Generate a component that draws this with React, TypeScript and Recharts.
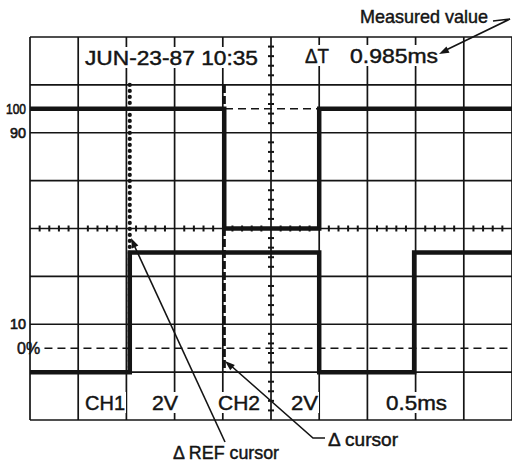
import React from 'react';
import {
  ComposedChart,
  Line,
  XAxis,
  YAxis,
  CartesianGrid,
  ReferenceLine,
  Scatter,
  Customized,
} from 'recharts';

// ---- data (in screen divisions: x 0..10 = 0.5 ms/div, y 0..8) ----
const gridX = [0, 1, 2, 3, 4, 5, 6, 7, 8, 9, 10];
const gridY = [0, 1, 2, 3, 4, 5, 6, 7, 8];

const ch1Time = [0, 2.07, 6.0, 7.97, 10];
const ch1Level = [1.0, 3.5, 1.0, 3.5, 3.5];

const ch2Time = [0, 4.03, 6.0, 10];
const ch2Level = [6.5, 4.0, 6.5, 6.5];

const refCursorX = 2.07;
const deltaCursorX = 4.03;
const cursorSpan = [1, 7];

const pctLevels = [6.5, 1.5]; // 100 % and 0 %
const yTickValues = [6.5, 6, 2, 1.5];
const yTickLabels = ['100', '90', '10', '0%'];

const centerX = 5;
const centerY = 4;
const minorX = [
  0.2, 0.4, 0.6, 0.8, 1.2, 1.4, 1.6, 1.8, 2.2, 2.4, 2.6, 2.8, 3.2, 3.4, 3.6, 3.8,
  4.2, 4.4, 4.6, 4.8, 5.2, 5.4, 5.6, 5.8, 6.2, 6.4, 6.6, 6.8, 7.2, 7.4, 7.6, 7.8,
  8.2, 8.4, 8.6, 8.8, 9.2, 9.4, 9.6, 9.8,
];
const minorY = [
  0.2, 0.4, 0.6, 0.8, 1.2, 1.4, 1.6, 1.8, 2.2, 2.4, 2.6, 2.8, 3.2, 3.4, 3.6, 3.8,
  4.2, 4.4, 4.6, 4.8, 5.2, 5.4, 5.6, 5.8, 6.2, 6.4, 6.6, 6.8, 7.2, 7.4, 7.6, 7.8,
];

const ch1Data = ch1Time.map((t, i) => ({ t, v: ch1Level[i] }));
const ch2Data = ch2Time.map((t, i) => ({ t, v: ch2Level[i] }));
const minorXData = minorX.map((t) => ({ t, v: centerY }));
const minorYData = minorY.map((v) => ({ t: centerX, v }));

const INK = '#141414';
const FONT = '"Liberation Sans", Arial, Helvetica, sans-serif';

const YTick = (props: any) => {
  const { y, payload } = props;
  const idx = yTickValues.indexOf(payload.value);
  const label = yTickLabels[idx];
  if (label === '0%') {
    return (
      <text x={17} y={y} dy={5.5} fontSize={16} fontFamily={FONT} fill={INK} stroke={INK} strokeWidth={0.5} textAnchor="start">
        {label}
      </text>
    );
  }
  return (
    <text x={26} y={y} dy={5} fontSize={14} fontFamily={FONT} fill={INK} stroke={INK} strokeWidth={0.6} textAnchor="end" textLength={label.length === 3 ? 20 : 16} lengthAdjust="spacingAndGlyphs">
      {label}
    </text>
  );
};

const HTick = (props: any) => {
  const { cx, cy } = props;
  return <line x1={cx} x2={cx} y1={cy - 3} y2={cy + 3} stroke={INK} strokeWidth={2} />;
};
const VTick = (props: any) => {
  const { cx, cy } = props;
  return <line x1={cx - 3} x2={cx + 3} y1={cy} y2={cy} stroke={INK} strokeWidth={2} />;
};

const arrowHead = (tx: number, ty: number, fx: number, fy: number) => {
  const dx = fx - tx;
  const dy = fy - ty;
  const len = Math.hypot(dx, dy);
  const ux = dx / len;
  const uy = dy / len;
  const L = 10;
  const W = 3.5;
  const bx = tx + ux * L;
  const by = ty + uy * L;
  return `${tx},${ty} ${bx - uy * W},${by + ux * W} ${bx + uy * W},${by - ux * W}`;
};

type Lbl = { text: string; x: number; y: number; size: number; len: number; bg: boolean };
const labels: Lbl[] = [
  { text: 'JUN-23-87 10:35', x: 85, y: 65, size: 20, len: 173, bg: true },
  { text: 'ΔT', x: 305, y: 63, size: 21, len: 24, bg: true },
  { text: '0.985ms', x: 350, y: 63, size: 21, len: 88, bg: true },
  { text: 'Measured value', x: 360, y: 23, size: 18.5, len: 128, bg: false },
  { text: 'CH1', x: 85, y: 410, size: 21, len: 40, bg: true },
  { text: '2V', x: 152, y: 410, size: 21, len: 26, bg: true },
  { text: 'CH2', x: 218, y: 410, size: 21, len: 42, bg: true },
  { text: '2V', x: 291, y: 410, size: 21, len: 27, bg: true },
  { text: '0.5ms', x: 386, y: 410, size: 21, len: 61, bg: true },
  { text: 'Δ REF cursor', x: 173, y: 459, size: 17.5, len: 106, bg: false },
  { text: 'Δ cursor', x: 328, y: 446, size: 17.5, len: 70, bg: false },
];

const Overlay = () => (
  <g>
    {labels.map((l, i) =>
      l.bg ? (
        <rect key={'r' + i} x={l.x - 2} y={l.y - 18} width={l.len + 3} height={21} fill="#fff" />
      ) : null
    )}
    {labels.map((l, i) => (
      <text
        key={'t' + i}
        x={l.x}
        y={l.y}
        fontSize={l.size}
        fontFamily={FONT}
        fill={INK}
        stroke={INK}
        strokeWidth={0.45}
        textLength={l.len}
        lengthAdjust="spacingAndGlyphs"
      >
        {l.text}
      </text>
    ))}
    {/* leader: Measured value */}
    <polyline points="493,21 510,19 444,51" fill="none" stroke={INK} strokeWidth={1.6} />
    <polygon points={arrowHead(439, 54, 510, 19)} fill={INK} />
    {/* leader: Δ REF cursor */}
    <line x1={134} y1={245} x2={225} y2={442} stroke={INK} strokeWidth={1.6} />
    <polygon points={arrowHead(131, 238, 225, 442)} fill={INK} />
    {/* leader: Δ cursor */}
    <polyline points="229,364 313,438 325,438" fill="none" stroke={INK} strokeWidth={1.6} />
    <polygon points={arrowHead(225, 361, 313, 438)} fill={INK} />
  </g>
);

export default function App() {
  return (
    <div style={{ position: 'absolute', left: 0, top: 0, width: 512, height: 463, background: '#fff' }}>
      <ComposedChart width={512} height={463} margin={{ top: 37, right: 0, bottom: 43, left: 0 }}>
        <XAxis type="number" dataKey="t" domain={[0, 10]} ticks={gridX} hide allowDataOverflow />
        <YAxis
          yAxisId="grid"
          type="number"
          dataKey="v"
          domain={[0, 8]}
          ticks={gridY}
          hide
          allowDataOverflow
        />
        <YAxis
          type="number"
          dataKey="v"
          domain={[0, 8]}
          ticks={yTickValues}
          interval={0}
          width={30}
          axisLine={false}
          tickLine={false}
          tick={<YTick />}
          allowDataOverflow
        />
        <CartesianGrid yAxisId="grid" stroke={INK} strokeWidth={1.7} strokeOpacity={1} />
        <Customized component={Overlay} />
        {pctLevels.map((p) => (
          <ReferenceLine
            key={'p' + p}
            segment={[
              { x: p === 1.5 ? 0.3 : 0, y: p },
              { x: 10, y: p },
            ]}
            stroke={INK}
            strokeWidth={1.6}
            strokeDasharray="8 5"
          />
        ))}
        <Scatter data={minorXData} dataKey="v" shape={<HTick />} isAnimationActive={false} />
        <Scatter data={minorYData} dataKey="v" shape={<VTick />} isAnimationActive={false} />
        <ReferenceLine
          segment={[
            { x: refCursorX, y: cursorSpan[1] },
            { x: refCursorX, y: cursorSpan[0] },
          ]}
          stroke={INK}
          strokeWidth={4.2}
          strokeDasharray="0 6"
          strokeLinecap="round"
        />
        <ReferenceLine
          segment={[
            { x: deltaCursorX, y: cursorSpan[1] },
            { x: deltaCursorX, y: cursorSpan[0] },
          ]}
          stroke={INK}
          strokeWidth={3.2}
          strokeDasharray="8 3"
        />
        <Line
          data={ch1Data}
          dataKey="v"
          type="stepAfter"
          stroke={INK}
          strokeWidth={4.5}
          dot={false}
          isAnimationActive={false}
        />
        <Line
          data={ch2Data}
          dataKey="v"
          type="stepAfter"
          stroke={INK}
          strokeWidth={4.5}
          dot={false}
          isAnimationActive={false}
        />
      </ComposedChart>
    </div>
  );
}
